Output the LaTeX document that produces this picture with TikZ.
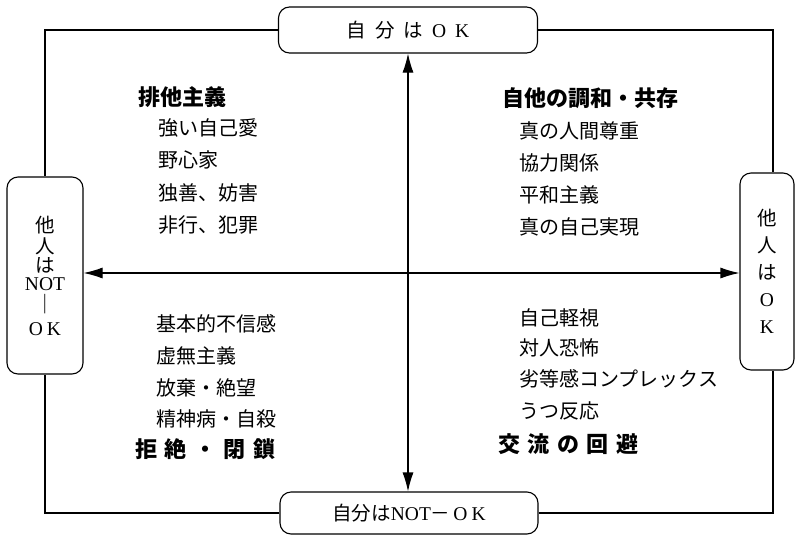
\documentclass[tikz,border=0pt]{standalone}
\usepackage{fontspec}
\setmainfont{Liberation Serif}
\newfontfamily\jp{Noto Sans CJK JP}
\usetikzlibrary{arrows.meta}
\newcommand{\gp}{\hspace{7.5pt}}
\begin{document}
\begin{tikzpicture}[x=1pt,y=-1pt,
  box/.style={draw, line width=1.1pt, rounded corners=11pt, inner sep=0pt},
  frame/.style={line width=1.1pt},
  axis/.style={line width=1.1pt, {Latex[length=19pt,width=11pt]}-{Latex[length=19pt,width=11pt]}},
  head/.style={anchor=west, font=\jp\bfseries\fontsize{22}{24}\selectfont, inner sep=0pt},
  item/.style={anchor=west, font=\jp\fontsize{20}{22}\selectfont, inner sep=0pt},
  lbl/.style={font=\fontsize{19.5}{21}\selectfont, align=center}
]
\useasboundingbox (0,0) rectangle (795,536);
% boxes
\node[box, lbl, minimum width=259pt, minimum height=46pt] (top) at (408,30)
  {{\jp 自\hspace{9pt}分\hspace{9pt}は}\hspace{9pt}O\hspace{9pt}K};
\node[box, lbl, minimum width=258pt, minimum height=42pt] (bot) at (409,513)
  {{\jp 自分は}NOT{\jp －}\hspace{3pt}O\hspace{4pt}K};
\node[box, lbl, minimum width=76pt, minimum height=197pt] (lbox) at (45,275.5)
  {{\jp 他}\\[0pt]{\jp 人}\\[-2pt]{\jp は}\\[-3pt]NOT\\[0pt]{\jp ｜}\\[3pt]O\hspace{4pt}K};
\node[box, lbl, minimum width=54pt, minimum height=197pt] (rbox) at (767,271.5)
  {{\jp 他}\\[6pt]{\jp 人}\\[6pt]{\jp は}\\[6pt]O\\[6pt]K};
% frame
\draw[frame] (top.west) -| (lbox.north);
\draw[frame] (top.east) -| ([xshift=6pt]rbox.north);
\draw[frame] (bot.west) -| (lbox.south);
\draw[frame] (bot.east) -| ([xshift=6pt]rbox.south);
% axes
\coordinate (hy) at (0,273);
\draw[axis] (lbox.east |- hy) -- (rbox.west |- hy);
\draw[axis] (top.south) -- (top.south |- bot.north);
% top-left
\node[head] (tlh) at (138,97) {排他主義};
\node[item] (tl1) at (158,128) {強い自己愛};
\node[item] (tl2) at (158,160) {野心家};
\node[item] (tl3) at (158,193) {独善、妨害};
\node[item] (tl4) at (158,225) {非行、犯罪};
% top-right
\node[head] (trh) at (502,98) {自他の調和・共存};
\node[item] (tr1) at (519,131) {真の人間尊重};
\node[item] (tr2) at (519,163) {協力関係};
\node[item] (tr3) at (519,195) {平和主義};
\node[item] (tr4) at (519,227) {真の自己実現};
% bottom-left
\node[item] (bl1) at (156,324) {基本的不信感};
\node[item] (bl2) at (156,356) {虚無主義};
\node[item] (bl3) at (156,388) {放棄・絶望};
\node[item] (bl4) at (156,419) {精神病・自殺};
\node[head] (blh) at (135,449) {拒\gp 絶\gp ・\gp 閉\gp 鎖};
% bottom-right
\node[item] (br1) at (519,318) {自己軽視};
\node[item] (br2) at (519,348) {対人恐怖};
\node[item] (br3) at (519,379) {劣等感コンプレックス};
\node[item] (br4) at (519,411) {うつ反応};
\node[head] (brh) at (498,444) {交\gp 流\gp の\gp 回\gp 避};
\end{tikzpicture}
\end{document}
